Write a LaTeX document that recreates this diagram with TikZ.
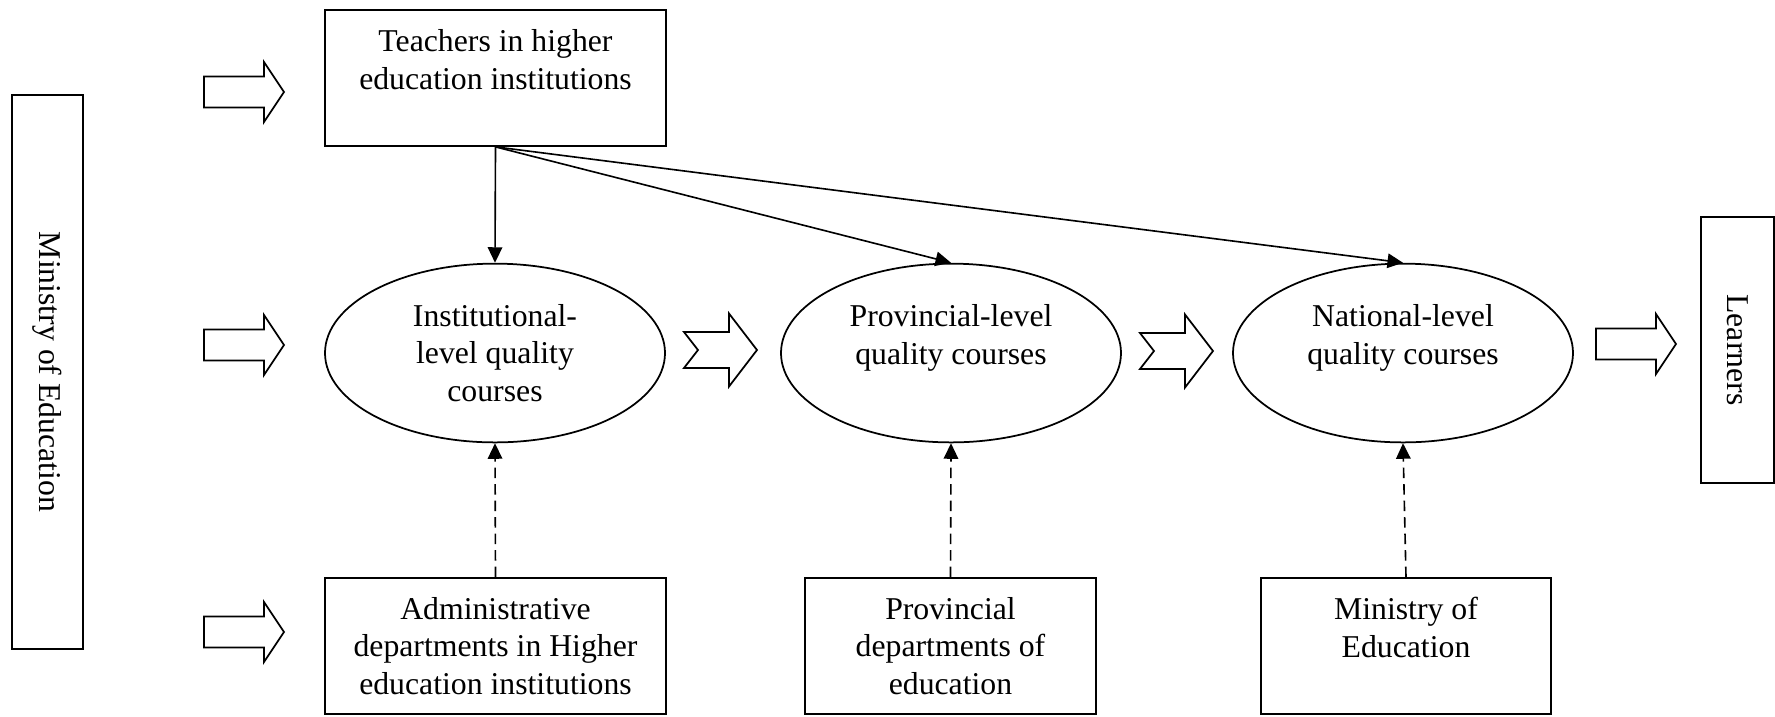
\documentclass[tikz,border=0pt]{standalone}
\usepackage{fontspec}
\setmainfont{Liberation Serif}
\usetikzlibrary{shapes.geometric,arrows.meta}

\tikzset{
  plainbox/.style={draw, line width=0.7pt, inner sep=0pt, align=center},
  oval/.style={draw, ellipse, line width=0.7pt, inner sep=0pt,
    minimum width=136pt, minimum height=71.5pt, align=center},
  feed/.style={line width=0.65pt, -{Triangle[length=6.2pt,width=5.8pt]}},
  support/.style={feed, dash pattern=on 4.2pt off 2.4pt}
}

% hollow block arrow, left end at (#1,#2)
\newcommand{\blockarrow}[2]{%
  \draw[line width=0.7pt, shift={(#1,#2)}]
    (0,-15.5) -- (60,-15.5) -- (60,-30) -- (80,0) -- (60,30) -- (60,15.5) -- (0,15.5) -- cycle;}
% notched chevron arrow, left end at (#1,#2)
\newcommand{\notcharrow}[2]{%
  \draw[line width=0.7pt, shift={(#1,#2)}]
    (0,-18) -- (45,-18) -- (45,-36.5) -- (73,0) -- (45,36.5) -- (45,18) -- (0,18) -- (14,0) -- cycle;}

\begin{document}
\begin{tikzpicture}[x=0.4pt, y=-0.4pt, font=\fontsize{12.7}{15}\selectfont]

        \useasboundingbox (0,0) rectangle (1775,716);

        % side boxes
        \node[plainbox, rotate=-90, minimum width=221.6pt, minimum height=28.4pt] (moe) at (47.5,372) {Ministry of Education};
        \node[plainbox, rotate=-90, minimum width=106.4pt, minimum height=29.2pt] (learn) at (1737.5,350) {Learners};

        % top and bottom boxes
        \node[plainbox, minimum width=136.4pt, minimum height=54.4pt] (teach) at (495.5,78) {Teachers in higher\\education institutions\\\mbox{}};
        \node[plainbox, minimum width=136.4pt, minimum height=54.4pt] (adm) at (495.5,646) {Administrative\\departments in Higher\\education institutions};
        \node[plainbox, minimum width=116.4pt, minimum height=54.4pt] (pdep) at (950.5,646) {Provincial\\departments of\\education};
        \node[plainbox, minimum width=116pt, minimum height=54.4pt] (mdep) at (1406,646) {Ministry of\\Education\\\mbox{}};

        % course levels
        \node[oval] (inst) at (495,353) {Institutional-\\level quality\\courses};
        \node[oval] (prov) at (951,353) {Provincial-level\\quality courses\\\mbox{}};
        \node[oval] (nat) at (1403,353) {National-level\\quality courses\\\mbox{}};

        % block arrows
        \blockarrow{204}{92}
        \blockarrow{204}{345}
        \blockarrow{204}{632}
        \blockarrow{1596}{344}
        \notcharrow{684}{350}
        \notcharrow{1140}{351}

        % teachers build courses
        \draw[feed] (teach.south) -- (inst.north);
        \draw[feed] (teach.south) -- (prov.north);
        \draw[feed] (teach.south) -- (nat.north);

        % administrative support
        \draw[support] (adm.north) -- (inst.south);
        \draw[support] (pdep.north) -- (prov.south);
        \draw[support] (mdep.north) -- (nat.south);

\end{tikzpicture}
\end{document}
